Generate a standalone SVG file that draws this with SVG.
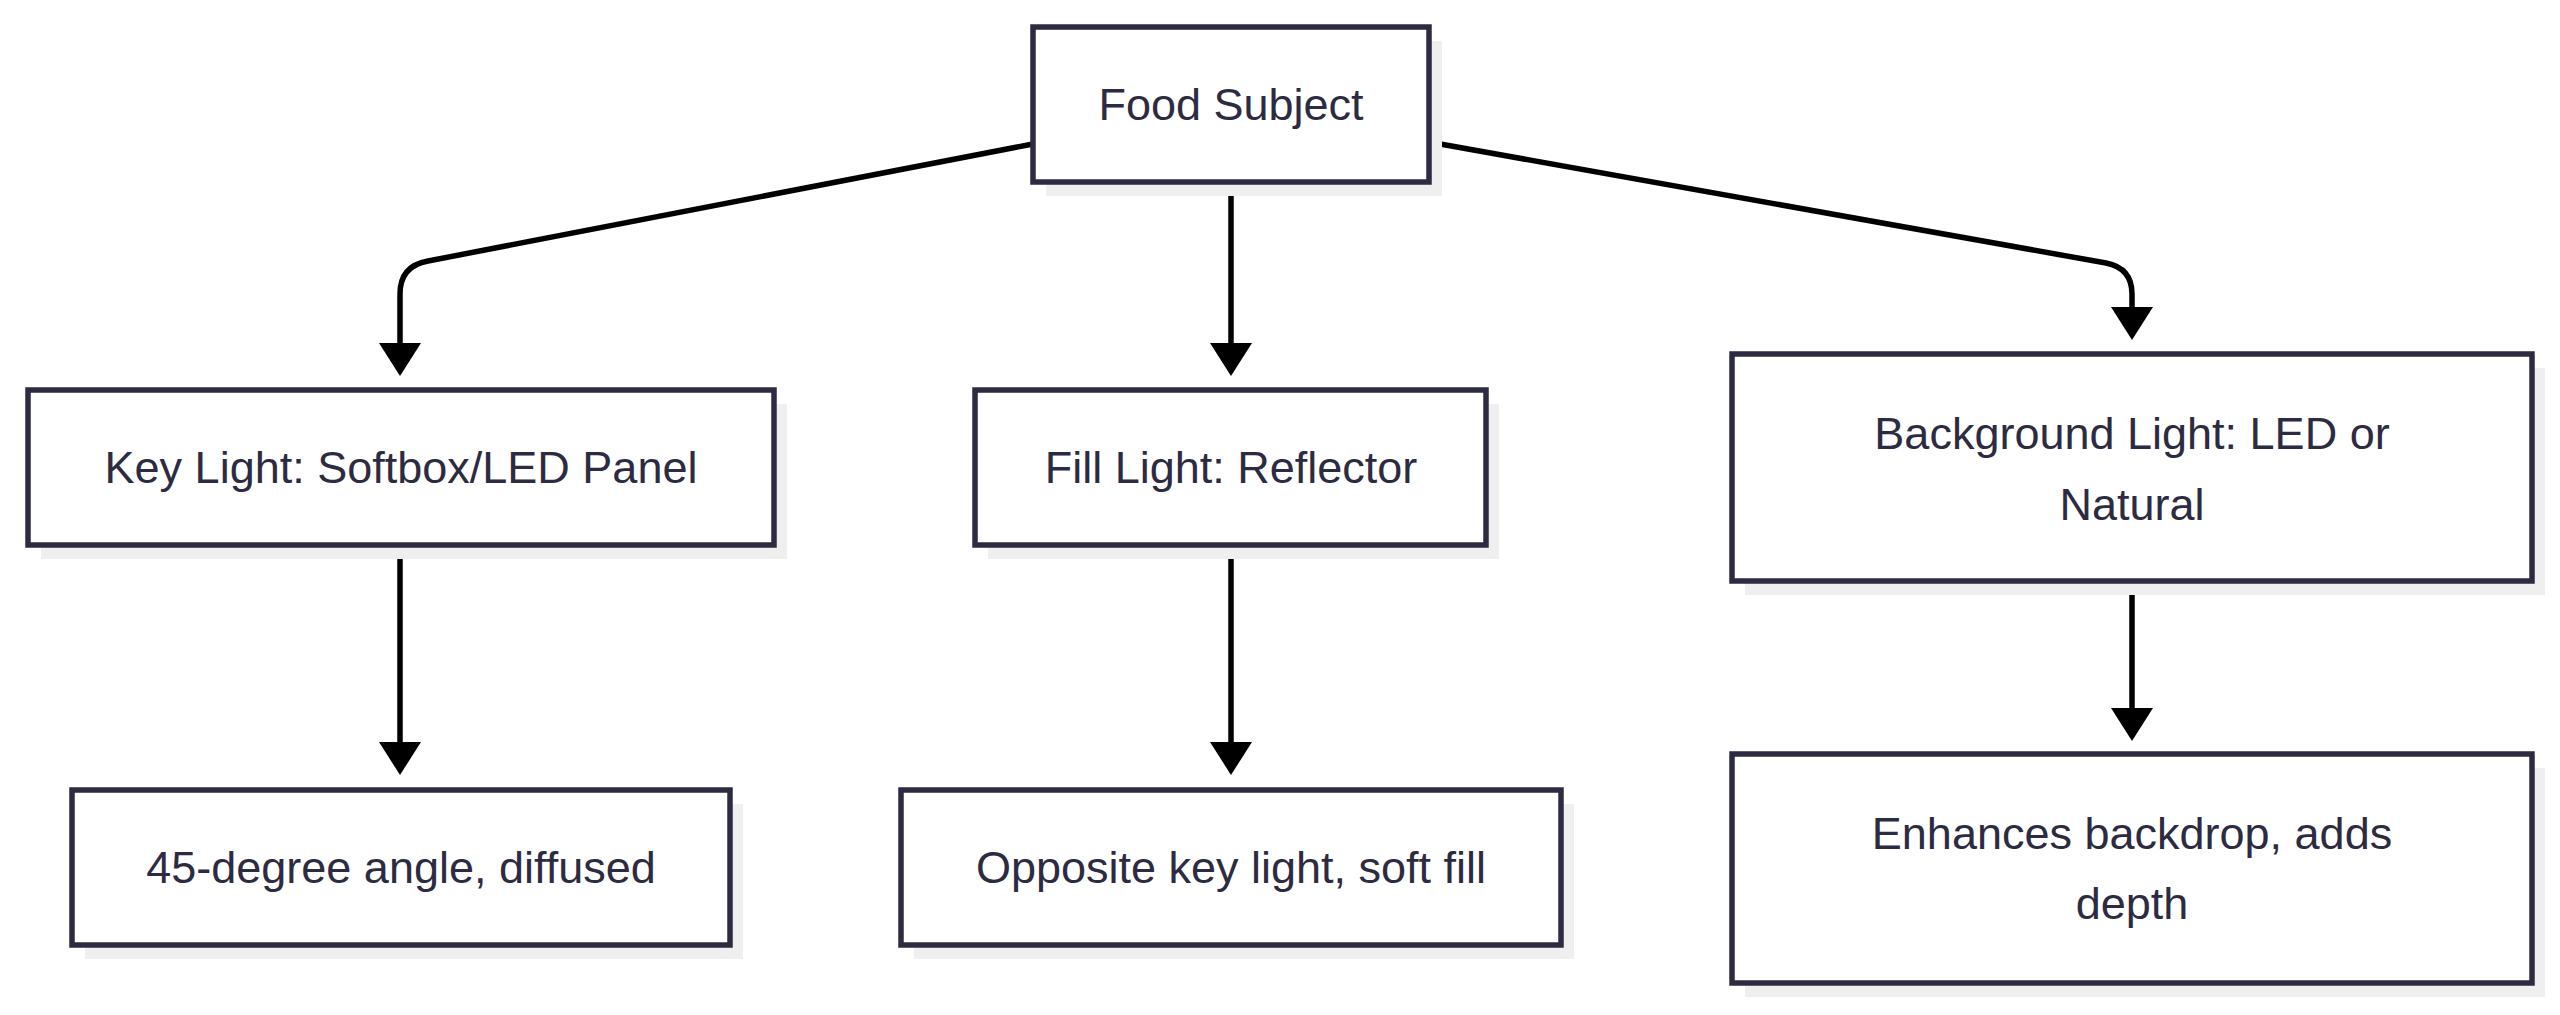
<svg xmlns="http://www.w3.org/2000/svg" width="2560" height="1015" viewBox="0 0 2560 1015">
<style>
.box{fill:#fff;stroke:#2d2b42;stroke-width:5.5}
.sh{fill:#efefef}
.t{font-family:"Liberation Sans",Arial,sans-serif;font-size:45px;fill:#2d2b42;text-anchor:middle;dominant-baseline:central}
.e{fill:none;stroke:#000;stroke-width:5.5}
</style>
<defs><marker id="a" markerWidth="42" markerHeight="34" refX="21" refY="33" orient="auto-start-reverse" markerUnits="userSpaceOnUse" viewBox="0 0 42 34"><path d="M0,0 L42,0 L21,33 Z" fill="#000"/></marker></defs>
<rect width="2560" height="1015" fill="#fff"/>
<g id="edges">
<path class="e" d="M1033,144 L428,261 Q400,266 400,294 L400,343"/>
<path d="M379,343 L421,343 L400,376 Z"/>
<path class="e" d="M1231,181 L1231,343"/>
<path d="M1210,343 L1252,343 L1231,376 Z"/>
<path class="e" d="M1429,142 L2106,263 Q2132,268 2132,294 L2132,307"/>
<path d="M2111,307 L2153,307 L2132,340 Z"/>
<path class="e" d="M400,545 L400,742"/>
<path d="M379,742 L421,742 L400,775 Z"/>
<path class="e" d="M1231,545 L1231,742"/>
<path d="M1210,742 L1252,742 L1231,775 Z"/>
<path class="e" d="M2132,581 L2132,708"/>
<path d="M2111,708 L2153,708 L2132,741 Z"/>
</g>
<g id="food"><rect class="sh" x="1046" y="41" width="396" height="155"/><rect class="box" x="1033" y="27" width="396" height="155"/><text class="t" x="1231" y="104">Food Subject</text></g>
<g id="key"><rect class="sh" x="41" y="404" width="746" height="155"/><rect class="box" x="28" y="390" width="746" height="155"/><text class="t" x="401" y="467">Key Light: Softbox/LED Panel</text></g>
<g id="fill"><rect class="sh" x="988" y="404" width="511" height="155"/><rect class="box" x="975" y="390" width="511" height="155"/><text class="t" x="1231" y="467">Fill Light: Reflector</text></g>
<g id="bg"><rect class="sh" x="1745" y="368" width="800" height="227"/><rect class="box" x="1732" y="354" width="800" height="227"/><text class="t" x="2132" y="433">Background Light: LED or</text><text class="t" x="2132" y="504">Natural</text></g>
<g id="deg"><rect class="sh" x="85" y="804" width="658" height="155"/><rect class="box" x="72" y="790" width="658" height="155"/><text class="t" x="401" y="867">45-degree angle, diffused</text></g>
<g id="opp"><rect class="sh" x="914" y="804" width="660" height="155"/><rect class="box" x="901" y="790" width="660" height="155"/><text class="t" x="1231" y="867">Opposite key light, soft fill</text></g>
<g id="enh"><rect class="sh" x="1745" y="768" width="800" height="229"/><rect class="box" x="1732" y="754" width="800" height="229"/><text class="t" x="2132" y="833">Enhances backdrop, adds</text><text class="t" x="2132" y="903">depth</text></g>
</svg>
